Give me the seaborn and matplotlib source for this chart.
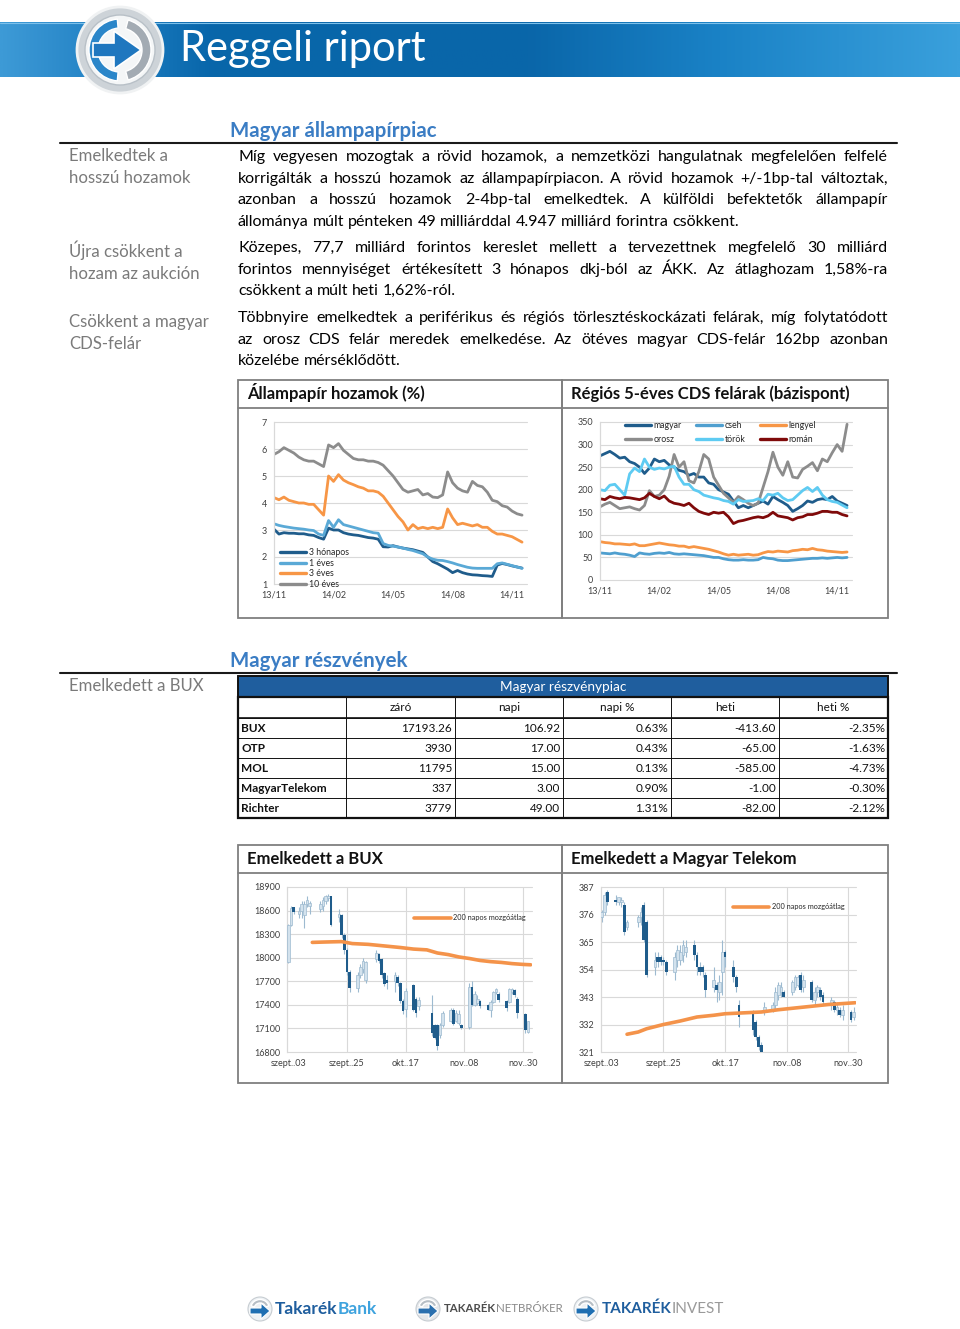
import matplotlib
matplotlib.use("Agg")
import matplotlib.pyplot as plt
import numpy as np
import pandas as pd
import seaborn as sns
from matplotlib.colors import LinearSegmentedColormap
from matplotlib.lines import Line2D
from matplotlib.patches import Circle, Polygon, Rectangle, Wedge

# ---------------------------------------------------------------- data
# months after 13/11, sampled every week or so
month_pos = [0, 0.25, 0.5, 0.75, 1, 1.25, 1.5, 1.75, 2, 2.25,
             2.5, 2.75, 3, 3.25, 3.5, 3.75, 4, 4.25, 4.5, 4.75,
             5, 5.25, 5.5, 5.75, 6, 6.25, 6.5, 6.75, 7, 7.25,
             7.5, 7.75, 8, 8.25, 8.5, 8.75, 9, 9.25, 9.5, 9.75,
             10, 10.25, 10.5, 10.75, 11, 11.25, 11.5, 11.75, 12, 12.25,
             12.5]

yield_3m = [3.03, 2.85, 2.90, 2.88, 2.88, 2.86, 2.86, 2.82, 2.80, 2.72,
            2.66, 3.07, 3.00, 3.00, 2.90, 2.85, 2.82, 2.80, 2.76, 2.72,
            2.70, 2.66, 2.38, 2.37, 2.42, 2.37, 2.33, 2.30, 2.27, 2.22,
            2.17, 2.00, 1.83, 1.75, 1.65, 1.55, 1.42, 1.50, 1.42, 1.37,
            1.34, 1.33, 1.31, 1.30, 1.28, 1.70, 1.76, 1.72, 1.67, 1.63,
            1.59]
yield_1y = [3.23, 3.17, 3.13, 3.10, 3.07, 3.05, 3.03, 3.00, 2.98, 2.85,
            2.80, 3.35, 3.10, 3.38, 3.20, 3.15, 3.10, 3.05, 3.00, 2.95,
            2.90, 2.88, 2.50, 2.43, 2.40, 2.37, 2.33, 2.28, 2.24, 2.18,
            2.12, 2.00, 1.92, 1.88, 1.87, 1.83, 1.78, 1.72, 1.67, 1.62,
            1.59, 1.58, 1.58, 1.58, 1.58, 1.75, 1.78, 1.73, 1.68, 1.63,
            1.58]
yield_3y = [4.20, 4.12, 4.22, 4.10, 4.05, 4.00, 4.00, 3.95, 3.95, 3.75,
            3.55, 5.00, 4.80, 5.05, 4.85, 4.75, 4.68, 4.60, 4.55, 4.45,
            4.45, 4.40, 4.25, 4.00, 3.75, 3.50, 3.30, 3.00, 3.20, 3.05,
            3.10, 3.05, 3.10, 3.05, 3.10, 3.78, 3.45, 3.20, 3.25, 3.20,
            3.15, 3.20, 3.10, 3.10, 2.95, 2.85, 2.85, 2.80, 2.75, 2.65,
            2.55]
yield_10y = [5.80, 5.90, 6.05, 5.95, 5.85, 5.70, 5.60, 5.55, 5.55, 5.45,
             5.35, 6.15, 6.05, 6.20, 5.95, 5.80, 5.65, 5.60, 5.60, 5.55,
             5.55, 5.50, 5.40, 5.20, 5.00, 4.75, 4.50, 4.40, 4.45, 4.50,
             4.30, 4.35, 4.22, 4.20, 4.30, 5.15, 4.75, 4.55, 4.45, 4.40,
             4.80, 4.65, 4.60, 4.40, 4.10, 4.05, 3.90, 3.85, 3.70, 3.60,
             3.55]
yield_names = ["3 hónapos", "1 éves", "3 éves", "10 éves"]

cds_magyar = [275, 280, 285, 278, 270, 272, 262, 258, 250, 236,
              248, 268, 262, 265, 255, 250, 243, 240, 232, 236,
              228, 228, 215, 212, 200, 195, 190, 175, 160, 165,
              160, 165, 170, 175, 168, 185, 178, 172, 165, 152,
              158, 165, 175, 172, 178, 180, 178, 185, 175, 170,
              165]
cds_cseh = [60, 59, 58, 60, 58, 57, 55, 52, 60, 58,
            57, 59, 60, 59, 61, 58, 57, 58, 57, 56,
            55, 54, 52, 50, 50, 47, 45, 44, 44, 45,
            44, 44, 45, 50, 48, 47, 44, 43, 43, 44,
            45, 46, 47, 48, 48, 49, 48, 49, 50, 49,
            50]
cds_lengyel = [85, 83, 82, 80, 80, 79, 78, 80, 76, 76,
               78, 80, 82, 80, 78, 77, 75, 75, 72, 74,
               72, 70, 68, 65, 62, 58, 55, 57, 55, 56,
               57, 55, 56, 60, 63, 62, 64, 63, 62, 65,
               66, 68, 67, 70, 67, 66, 64, 63, 62, 61,
               62]
cds_orosz = [162, 168, 172, 165, 158, 160, 162, 158, 155, 165,
             198, 185, 188, 200, 230, 278, 250, 262, 220, 215,
             240, 278, 268, 228, 210, 192, 182, 172, 185, 178,
             170, 165, 170, 205, 240, 283, 250, 232, 262, 228,
             226, 245, 252, 260, 242, 268, 262, 282, 300, 285,
             345]
cds_torok = [200, 198, 210, 212, 200, 188, 235, 248, 240, 268,
             250, 245, 248, 246, 250, 252, 228, 212, 212, 200,
             196, 188, 185, 182, 180, 176, 174, 168, 178, 174,
             175, 176, 180, 176, 190, 188, 192, 182, 176, 178,
             188, 198, 205, 196, 205, 188, 178, 174, 172, 166,
             160]
cds_roman = [180, 178, 185, 182, 180, 183, 182, 180, 178, 182,
             192, 185, 180, 186, 175, 170, 168, 165, 170, 160,
             152, 148, 145, 150, 148, 150, 140, 125, 130, 132,
             135, 138, 140, 138, 142, 150, 142, 140, 138, 133,
             138, 140, 145, 145, 148, 152, 152, 150, 150, 145,
             142]
cds_names = ["magyar", "cseh", "lengyel", "orosz", "török", "román"]

# table
stock_names = ["BUX", "OTP", "MOL", "MagyarTelekom", "Richter"]
stock_close = ["17193.26", "3930", "11795", "337", "3779"]
stock_day = ["106.92", "17.00", "15.00", "3.00", "49.00"]
stock_day_pct = ["0.63%", "0.43%", "0.13%", "0.90%", "1.31%"]
stock_week = ["-413.60", "-65.00", "-585.00", "-1.00", "-82.00"]
stock_week_pct = ["-2.35%", "-1.63%", "-4.73%", "-0.30%", "-2.12%"]
table_cols = ["záró", "napi", "napi %", "heti", "heti %"]

# daily candles, day = days after szept. 03
bux_day = [0, 1, 2, 4, 5, 6, 7, 8, 12, 13,
           14, 15, 16, 19, 20, 21, 22, 23, 26, 27,
           28, 29, 33, 34, 35, 36, 37, 40, 41, 42,
           43, 44, 47, 48, 49, 54, 55, 56, 57, 58,
           61, 62, 63, 64, 65, 68, 69, 70, 71, 72,
           75, 76, 77, 78, 79, 82, 83, 84, 85, 86,
           89, 90]
bux_open = [17950, 18420, 18640, 18560, 18600, 18550, 18690, 18660, 18620, 18660,
            18720, 18760, 18780, 18520, 18550, 18290, 18100, 17820, 17620, 17780,
            17860, 17720, 17980, 18050, 17980, 17800, 17720, 17700, 17760, 17680,
            17450, 17350, 17650, 17480, 17380, 17300, 17150, 17150, 17020, 17140,
            17200, 17340, 17200, 17170, 17150, 17120, 17630, 17400, 17420, 17450,
            17400, 17330, 17440, 17560, 17540, 17450, 17440, 17560, 17590, 17480,
            17290, 17060]
bux_high = [18430, 18660, 18650, 18640, 18720, 18720, 18780, 18720, 18720, 18770,
            18800, 18810, 18790, 18620, 18560, 18310, 18120, 17840, 17820, 17920,
            18000, 17960, 18100, 18060, 18000, 17820, 17780, 17820, 17780, 17690,
            17470, 17620, 17660, 17500, 17500, 17520, 17160, 17160, 17170, 17320,
            17360, 17360, 17330, 17330, 17160, 17680, 17700, 17580, 17520, 17460,
            17410, 17460, 17580, 17620, 17560, 17460, 17620, 17620, 17600, 17500,
            17300, 17200]
bux_low = [17930, 18400, 18560, 18500, 18500, 18380, 18650, 18560, 18580, 18600,
           18680, 18720, 18400, 18450, 18250, 18050, 17780, 17560, 17560, 17740,
           17800, 17680, 17940, 17930, 17740, 17640, 17600, 17560, 17640, 17420,
           17280, 17250, 17320, 17250, 17340, 17000, 16960, 16820, 16980, 17120,
           17180, 17140, 17180, 17150, 17090, 17090, 17380, 17380, 17400, 17360,
           17330, 17250, 17420, 17540, 17440, 17320, 17430, 17540, 17500, 17230,
           17040, 17040]
bux_close = [18420, 18630, 18580, 18600, 18680, 18690, 18740, 18700, 18690, 18740,
             18790, 18780, 18420, 18560, 18290, 18100, 17820, 17620, 17780, 17880,
             17960, 17940, 18060, 17960, 17780, 17660, 17680, 17780, 17680, 17450,
             17320, 17580, 17340, 17300, 17460, 17040, 16980, 16880, 17140, 17300,
             17340, 17160, 17300, 17290, 17100, 17630, 17400, 17540, 17480, 17380,
             17340, 17440, 17560, 17600, 17460, 17360, 17600, 17600, 17520, 17300,
             17080, 17190]
bux_ma_day = [9, 14, 20, 24, 30, 36, 42, 47, 52, 56, 60, 64, 68, 72, 76, 80, 84, 88, 91]
bux_ma = [18195, 18200, 18205, 18180, 18170, 18150, 18130, 18110, 18100, 18060,
          18040, 18010, 17990, 17965, 17950, 17940, 17925, 17915, 17910]

mtel_day = [0, 1, 2, 5, 6, 7, 8, 9, 13, 14,
            15, 16, 19, 20, 21, 22, 23, 26, 27, 28,
            29, 30, 33, 34, 35, 36, 37, 40, 41, 42,
            43, 44, 47, 48, 49, 54, 55, 56, 57, 58,
            61, 62, 63, 64, 65, 68, 69, 70, 71, 72,
            75, 76, 77, 78, 79, 82, 83, 84, 85, 86,
            89, 90]
mtel_open = [375, 377, 385, 382, 381, 381, 380, 371, 373, 375,
             380, 373, 355, 359, 359, 358, 357, 353, 358, 358,
             360, 361, 364, 360, 355, 355, 352, 347, 348, 345,
             353, 361, 355, 351, 340, 337, 333, 327, 324, 337,
             338, 340, 344, 345, 345, 345, 347, 348, 352, 347,
             349, 342, 345, 346, 344, 340, 341, 338, 338, 336,
             337, 335]
mtel_high = [378, 385, 386, 384, 383, 383, 381, 374, 376, 379,
             381, 374, 361, 361, 360, 359, 358, 361, 364, 364,
             366, 366, 366, 361, 357, 356, 353, 355, 349, 352,
             366, 362, 358, 352, 342, 338, 334, 328, 325, 341,
             341, 347, 349, 349, 346, 350, 352, 352, 353, 352,
             350, 347, 348, 347, 345, 343, 342, 341, 339, 340,
             338, 339]
mtel_low = [373, 376, 380, 380, 380, 379, 368, 370, 371, 372,
            365, 351, 352, 355, 356, 356, 352, 350, 355, 356,
            357, 359, 358, 352, 352, 351, 343, 345, 341, 342,
            344, 355, 349, 345, 331, 328, 326, 322, 320, 336,
            337, 338, 342, 343, 343, 344, 346, 347, 345, 345,
            341, 340, 343, 342, 340, 338, 337, 336, 335, 334,
            333, 334]
mtel_close = [377, 384, 381, 381, 383, 382, 369, 373, 375, 377,
              366, 352, 358, 357, 357, 357, 353, 359, 362, 361,
              364, 363, 360, 355, 353, 353, 346, 350, 346, 349,
              361, 359, 351, 347, 335, 330, 327, 323, 321, 339,
              340, 345, 348, 347, 343, 349, 351, 351, 346, 350,
              342, 345, 347, 343, 341, 342, 338, 339, 336, 338,
              334, 337]
mtel_ma_day = [9, 13, 16, 22, 28, 34, 40, 44, 57, 63, 69, 75, 81, 90.5]
mtel_ma = [328.1, 329.0, 330.3, 332.0, 333.4, 335.0, 335.7, 336.3, 337.0, 337.9,
           338.6, 339.3, 340.0, 340.7]

month_ticks = ["13/11", "14/02", "14/05", "14/08", "14/11"]
day_ticks = ["szept..03", "szept..25", "okt..17", "nov..08", "nov..30"]

# ---------------------------------------------------------------- style
W, H = 960, 1329
FONT = ["Lato", "DejaVu Sans"]
BLUE_HEAD = "#3b7dc4"
LABEL_GREY = "#7a7a7a"
BOX_GREY = "#7f7f7f"
GRID = "#d9d9d9"
TICK = "#404040"
YIELD_COLORS = ["#1f5c8b", "#5aa9d6", "#f79646", "#8c8c8c"]
CDS_COLORS = ["#1f5c8b", "#4f9fcf", "#f79646", "#8c8c8c", "#5ecbf2", "#7f0a0a"]
MA_COLOR = "#f4934a"

sns.set_theme(style="white")
plt.rcParams["font.family"] = FONT

fig = plt.figure(figsize=(W / 100, H / 100), dpi=100)
page = fig.add_axes([0, 0, 1, 1])
page.axis("off")
renderer = fig.canvas.get_renderer()


def box(x0, y0, x1, y1):
    return fig.add_axes([x0 / W, 1 - y1 / H, (x1 - x0) / W, (y1 - y0) / H])


def text_width(s, fs, **kw):
    t = page.text(0, 0, s, fontsize=fs, **kw)
    w = t.get_window_extent(renderer).width
    t.remove()
    return w


def place_line(s, x0, x1, base, fs, justify, **kw):
    words = s.split(" ")
    arts = [page.text(x0, base, w, fontsize=fs, ha="left", va="baseline", **kw) for w in words]
    widths = [a.get_window_extent(renderer).width for a in arts]
    gap = fs * 100 / 72 * 0.24
    if justify and len(words) > 1:
        gap = (x1 - x0 - sum(widths)) / (len(words) - 1)
    x = x0
    for a, w in zip(arts, widths):
        a.set_x(x)
        x += w + gap


# ---------------------------------------------------------------- header
hdr = LinearSegmentedColormap.from_list(
    "hdr", [(0, "#3d9ad6"), (0.13, "#1c7cc0"), (0.22, "#0866aa"), (0.55, "#0a66a9"),
            (0.75, "#1a82c6"), (1, "#3aa0dc")])
page.imshow(np.linspace(0, 1, 512)[None, :], extent=[0, W, 77, 22], cmap=hdr,
            aspect="auto", zorder=1)
page.plot([0, W], [22.5, 22.5], color="#7cc0ea", lw=0.8, zorder=2)
page.set_xlim(0, W)
page.set_ylim(H, 0)

page.add_patch(Circle((120, 50), 43, fc="#cdd3d8", ec="#f0f2f3", lw=2, zorder=3))
page.add_patch(Circle((120, 50), 35, fc="#f4f6f7", ec="#b8c0c7", lw=1, zorder=3))
page.add_patch(Wedge((120, 50), 31, 95, 265, width=9, fc="#2b86c9", zorder=4))
page.add_patch(Wedge((120, 50), 31, -75, 75, width=9, fc="#a3abb3", zorder=4))
page.add_patch(Polygon([(93, 43), (114, 43), (114, 31), (141, 50), (114, 69), (114, 57), (93, 57)],
                       closed=True, fc="#1f77bf", ec="white", lw=1.2, zorder=5))
page.text(180, 49, "Reggeli riport", color="white", fontsize=30,
          va="center", ha="left", zorder=5)

# ---------------------------------------------------------------- section 1 text
page.text(230, 137, "Magyar állampapírpiac", color=BLUE_HEAD, fontsize=14.8,
          fontweight="bold", ha="left", va="baseline")
page.plot([60, 897], [143, 143], color="#1a1a1a", lw=1.5)

paragraphs = [
    ([161, 183, 204, 226], [
        "Míg vegyesen mozogtak a rövid hozamok, a nemzetközi hangulatnak megfelelően felfelé",
        "korrigálták a hosszú hozamok az állampapírpiacon. A rövid hozamok +/-1bp-tal változtak,",
        "azonban a hosszú hozamok 2-4bp-tal emelkedtek. A külföldi befektetők állampapír",
        "állománya múlt pénteken 49 milliárddal 4.947 milliárd forintra csökkent."]),
    ([252, 274, 295], [
        "Közepes, 77,7 milliárd forintos kereslet mellett a tervezettnek megfelelő 30 milliárd",
        "forintos mennyiséget értékesített 3 hónapos dkj-ból az ÁKK. Az átlaghozam 1,58%-ra",
        "csökkent a múlt heti 1,62%-ról."]),
    ([322, 344, 365], [
        "Többnyire emelkedtek a periférikus és régiós törlesztéskockázati felárak, míg folytatódott",
        "az orosz CDS felár meredek emelkedése. Az ötéves magyar CDS-felár 162bp azonban",
        "közelébe mérséklődött."]),
]
fs_body = 11.5
widest = max(text_width(s, fs_body) for _, lines in paragraphs for s in lines)
if widest > 646:
    fs_body *= 646 / widest
for bases, lines in paragraphs:
    for i, (b, s) in enumerate(zip(bases, lines)):
        place_line(s, 238, 888, b, fs_body, i < len(lines) - 1, color="black")

side_labels = [(161, "Emelkedtek a"), (183, "hosszú hozamok"),
               (257, "Újra csökkent a"), (279, "hozam az aukción"),
               (327, "Csökkent a magyar"), (349, "CDS-felár"),
               (691, "Emelkedett a BUX")]
for b, s in side_labels:
    page.text(69, b, s, color=LABEL_GREY, fontsize=fs_body * 1.05, ha="left", va="baseline")


# ---------------------------------------------------------------- chart frames
def frames(y0, y_title, y1, titles):
    for (x0, x1), title in zip([(238, 562), (562, 888)], titles):
        page.add_patch(Rectangle((x0, y0), x1 - x0, y1 - y0, fill=False, ec=BOX_GREY, lw=1.3))
        page.plot([x0, x1], [y_title, y_title], color=BOX_GREY, lw=1.3)
        page.text(x0 + 9, y_title - 9, title, fontsize=12, fontweight="bold",
                  color="#111111", ha="left", va="baseline")


def style(ax, xlim, ylim, xticks, xlabels, yticks, vgrid=()):
    ax.set_facecolor("none")
    ax.set_xlim(*xlim)
    ax.set_ylim(*ylim)
    ax.set_xticks(xticks)
    ax.set_xticklabels(xlabels)
    ax.set_yticks(yticks)
    ax.set_yticklabels([f"{v:g}" for v in yticks])
    ax.tick_params(length=0, labelsize=6.5, labelcolor=TICK, pad=5)
    for s in ["top", "right", "bottom"]:
        ax.spines[s].set_visible(False)
    ax.spines["left"].set_color(GRID)
    ax.spines["left"].set_linewidth(0.9)
    ax.grid(False)
    for y in yticks:
        ax.axhline(y, color=GRID, lw=0.8, zorder=0, clip_on=False)
    for x in vgrid:
        ax.axvline(x, color=GRID, lw=0.8, zorder=0)
    ax.set_xlabel("")
    ax.set_ylabel("")


frames(380, 408, 618, ["Állampapír hozamok (%)", "Régiós 5-éves CDS felárak (bázispont)"])

# yields
ax1 = box(274, 422, 527, 584)
yields = pd.DataFrame({"m": month_pos, "3 hónapos": yield_3m, "1 éves": yield_1y,
                       "3 éves": yield_3y, "10 éves": yield_10y})
ylong = yields.melt(id_vars="m", var_name="series", value_name="value")
sns.lineplot(data=ylong, x="m", y="value", hue="series", hue_order=yield_names,
             palette=YIELD_COLORS, linewidth=2.0, legend=False, ax=ax1)
style(ax1, (0, 12.75), (1, 7), [0, 3, 6, 9, 12], month_ticks, [1, 2, 3, 4, 5, 6, 7])
handles = [Line2D([], [], color=c, lw=2.4) for c in YIELD_COLORS]
ax1.legend(handles, yield_names, loc="lower left", bbox_to_anchor=(0.024, -0.03),
           frameon=False, fontsize=6.3, handlelength=3.0, handletextpad=0.3,
           labelspacing=0.18, borderpad=0, borderaxespad=0)

# CDS
ax2 = box(600, 422, 852, 580)
cds = pd.DataFrame({"m": month_pos, "magyar": cds_magyar, "cseh": cds_cseh,
                    "lengyel": cds_lengyel, "orosz": cds_orosz, "török": cds_torok,
                    "román": cds_roman})
clong = cds.melt(id_vars="m", var_name="series", value_name="value")
sns.lineplot(data=clong, x="m", y="value", hue="series", hue_order=cds_names,
             palette=CDS_COLORS, linewidth=2.0, legend=False, ax=ax2)
style(ax2, (0, 12.75), (0, 350), [0, 3, 6, 9, 12], month_ticks,
      [0, 50, 100, 150, 200, 250, 300, 350])
order = [0, 3, 1, 4, 2, 5]
handles = [Line2D([], [], color=CDS_COLORS[i], lw=2.4) for i in order]
ax2.legend(handles, [cds_names[i] for i in order], ncol=3, loc="upper left",
           bbox_to_anchor=(0.099, 1.005), frameon=False, fontsize=6.3, handlelength=3.0,
           handletextpad=0.3, labelspacing=0.5, columnspacing=1.6, borderpad=0,
           borderaxespad=0)

# ---------------------------------------------------------------- section 2
page.text(230, 667, "Magyar részvények", color=BLUE_HEAD, fontsize=14.8,
          fontweight="bold", ha="left", va="baseline")
page.plot([60, 897], [673, 673], color="#1a1a1a", lw=1.5)

col_x = [238, 346, 455, 563, 671, 779, 888]
row_y = [676, 697, 718, 738, 758, 778, 798, 818]
page.add_patch(Rectangle((238, 676), 650, 21, fc="#1f5e9e", ec="#111111", lw=1.4))
page.text(563, 687, "Magyar részvénypiac", color="white", fontsize=9.8,
          ha="center", va="center")
for y in row_y[2:-1]:
    page.plot([238, 888], [y, y], color="#111111", lw=0.7)
for x in col_x[1:-1]:
    page.plot([x, x], [697, 818], color="#111111", lw=0.7)
page.plot([238, 888], [718, 718], color="#111111", lw=1.2)
page.add_patch(Rectangle((238, 697), 650, 121, fill=False, ec="#111111", lw=1.6))
for j, name in enumerate(table_cols):
    page.text((col_x[j + 1] + col_x[j + 2]) / 2, 707.5, name, fontsize=8.5,
              ha="center", va="center", color="#111111")
columns = [stock_close, stock_day, stock_day_pct, stock_week, stock_week_pct]
for i, name in enumerate(stock_names):
    yc = (row_y[i + 2] + row_y[i + 3]) / 2
    page.text(241, yc, name, fontsize=8.5, fontweight="bold", ha="left", va="center",
              color="#111111")
    for j, col in enumerate(columns):
        page.text(col_x[j + 2] - 3, yc, col[i], fontsize=8.5, ha="right", va="center",
                  color="#111111")

frames(845, 873, 1083, ["Emelkedett a BUX", "Emelkedett a Magyar Telekom"])


def candles(ax, day, o, h, l, c):
    df = pd.DataFrame({"day": day, "open": o, "high": h, "low": l, "close": c})
    up = df[df["close"] >= df["open"]]
    dn = df[df["close"] < df["open"]]
    ax.vlines(df["day"], df["low"], df["high"], color="#9dbad0", lw=0.8, zorder=2)
    ax.bar(up["day"], up["close"] - up["open"], bottom=up["open"], width=1.0,
           color="#d3e2ed", edgecolor="#9dbad0", linewidth=0.5, zorder=3)
    ax.bar(dn["day"], dn["open"] - dn["close"], bottom=dn["close"], width=1.0,
           color="#1f5c8b", linewidth=0, zorder=3)


ax3 = box(287, 887, 532, 1052)
candles(ax3, bux_day, bux_open, bux_high, bux_low, bux_close)
sns.lineplot(x=bux_ma_day, y=bux_ma, color=MA_COLOR, linewidth=2.6, ax=ax3, zorder=4)
style(ax3, (-0.5, 91.5), (16800, 18900), [0, 22, 44, 66, 88], day_ticks,
      list(range(16800, 18901, 300)), vgrid=[22, 44, 66, 88])
ax3.legend([Line2D([], [], color=MA_COLOR, lw=2.6)], ["200 napos mozgóátlag"],
           loc="upper left", bbox_to_anchor=(0.518, 0.835), frameon=False, fontsize=5.3,
           handlelength=5.0, handletextpad=0.3, borderpad=0, borderaxespad=0)

ax4 = box(601, 887, 856, 1052)
candles(ax4, mtel_day, mtel_open, mtel_high, mtel_low, mtel_close)
sns.lineplot(x=mtel_ma_day, y=mtel_ma, color=MA_COLOR, linewidth=2.6, ax=ax4, zorder=4)
style(ax4, (-0.3, 90.8), (321, 387), [0, 22, 44, 66, 88], day_ticks,
      [321, 332, 343, 354, 365, 376, 387], vgrid=[22, 44, 66, 88])
ax4.legend([Line2D([], [], color=MA_COLOR, lw=2.6)], ["200 napos mozgóátlag"],
           loc="upper left", bbox_to_anchor=(0.516, 0.9), frameon=False, fontsize=5.3,
           handlelength=5.0, handletextpad=0.3, borderpad=0, borderaxespad=0)

# ---------------------------------------------------------------- footer logos


def icon(cx, cy, ring, arrow):
    page.add_patch(Circle((cx, cy), 12, fc=ring, ec="#c7cdd2", lw=0.8, zorder=3))
    page.add_patch(Wedge((cx, cy), 9.5, 200, 340, width=3.5, fc="#b6bec5", zorder=4))
    page.add_patch(Polygon([(cx - 10, cy - 1), (cx + 1, cy - 1), (cx + 1, cy - 6),
                            (cx + 10, cy + 2), (cx + 1, cy + 10), (cx + 1, cy + 5),
                            (cx - 10, cy + 5)], closed=True, fc=arrow, ec="white",
                           lw=0.8, zorder=5))


def wordmark(x, y, first, second, fs, c1, c2, w1="bold", w2="normal"):
    t = page.text(x, y, first, fontsize=fs, fontweight=w1, color=c1, ha="left",
                  va="center")
    w = t.get_window_extent(renderer).width
    page.text(x + w, y, second, fontsize=fs, fontweight=w2, color=c2, ha="left",
              va="center")


icon(260, 1309, "#eef2f5", "#1f6fb2")
wordmark(275, 1309, "Takarék", "Bank", 12.5, "#1f5e9e", "#3fa3de", w2="bold")
icon(428, 1309, "#e4e7ea", "#2a6fae")
wordmark(444, 1309, "TAKARÉK", "NETBRÓKER", 8.3, "#4d4d4d", "#8a8a8a")
icon(586, 1309, "#eef2f5", "#1f6fb2")
wordmark(602, 1309, "TAKARÉK", "INVEST", 11, "#1f5e9e", "#9a9a9a")

fig.savefig("out.png", dpi=100)
